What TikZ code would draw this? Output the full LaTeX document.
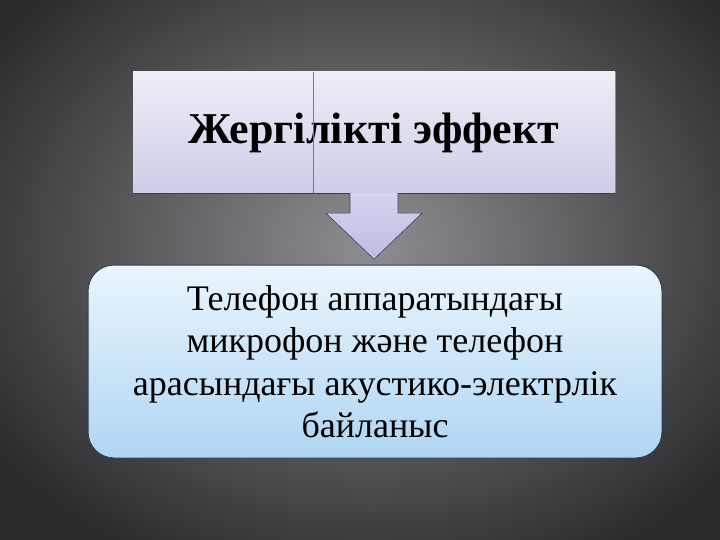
\documentclass[tikz,border=0pt]{standalone}
\usepackage{fontspec}
\setmainfont{Liberation Serif}
\begin{document}
\begin{tikzpicture}[x=1pt,y=-1pt,
  topbox/.style={rectangle, minimum width=482pt, minimum height=121pt, inner sep=0pt,
    top color=topA, bottom color=topB, font=\fontsize{44}{50}\selectfont\bfseries},
  botbox/.style={rectangle, rounded corners=26pt, minimum width=574pt, minimum height=193pt,
    top color=botA, bottom color=botB, draw=botEdge, line width=1pt, align=center,
    font=\fontsize{36}{42.5}\selectfont}]
\definecolor{bgIn}{HTML}{8E8E92}
\definecolor{bgOut}{HTML}{2C2C2E}
\definecolor{topA}{HTML}{EEEEF7}
\definecolor{topB}{HTML}{CDCDE8}
\definecolor{arrA}{HTML}{D4D4EE}
\definecolor{arrB}{HTML}{BDBDE2}
\definecolor{edge}{HTML}{3E3E5C}
\definecolor{botA}{HTML}{EAF5FD}
\definecolor{botB}{HTML}{AFD6F3}
\definecolor{botEdge}{HTML}{2A3E58}
\useasboundingbox (0,0) rectangle (720,540);
\shade[inner color=bgIn, outer color=bgOut] (-80,-110) rectangle (820,600);
% top box
\node[topbox] (top) at (374,132.5) {Жергілікті эффект};
\draw[edge, line width=1pt] (top.south west) -- (top.south east);
\draw[edge!60, line width=1pt] (top.north east) -- (top.south east);
\draw[edge!70, line width=0.8pt] (top.north west) ++(181,0) -- ++(0,121);
% bottom box
\node[botbox] (bot) at (375,361.5) {Телефон аппаратындағы\\микрофон және телефон\\арасындағы акустико-электрлік\\байланыс};
% arrow connector
\shade[top color=arrA, bottom color=arrB, draw=edge, line width=0.6pt]
  (top.south) ++(-24,0) -- ++(0,20) -- ++(-24,0) -- ++(48,46) -- ++(48,-46) -- ++(-24,0) -- ++(0,-20);
\end{tikzpicture}
\end{document}
